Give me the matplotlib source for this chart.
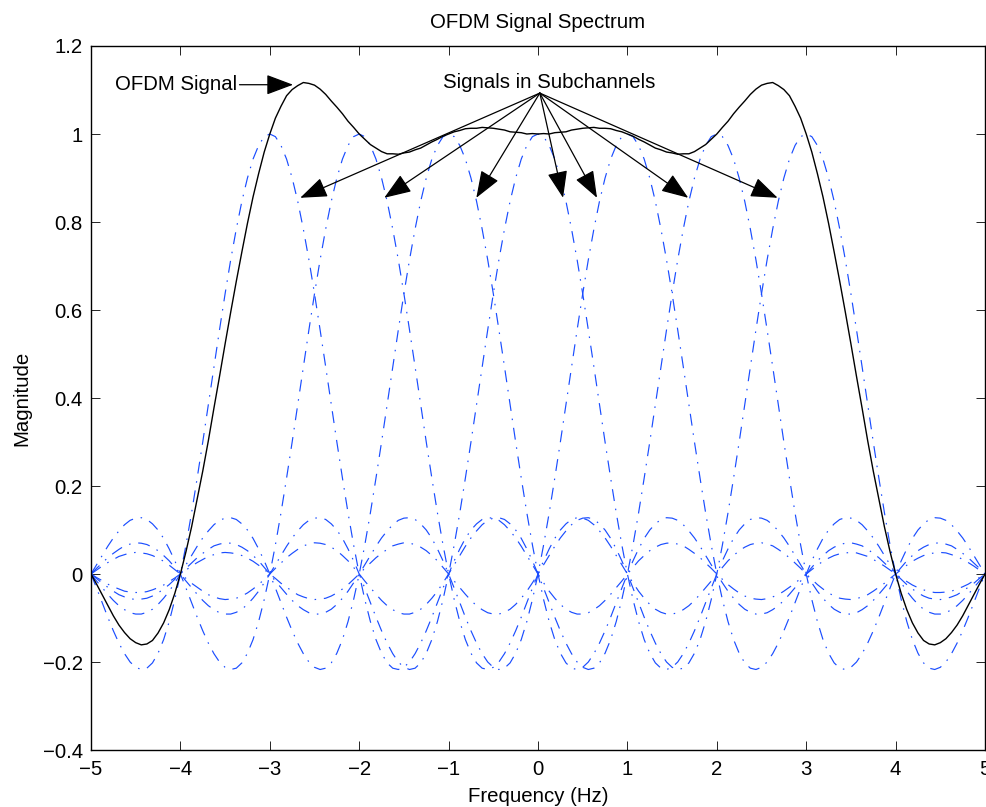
import numpy as np
import matplotlib
matplotlib.use("Agg")
import matplotlib.pyplot as plt

plt.rcParams['font.family'] = ['Liberation Sans', 'DejaVu Sans']
plt.rcParams['lines.scale_dashes'] = False

# centre frequency of each subchannel (Hz)
subchannel_centers = [-3, -2, -1, 0, 1, 2, 3]

# magnitude of one subchannel pulse, read at offsets 0, 1/16, 2/16 ... 8 Hz from its centre
pulse_step = 0.0625
pulse_values = [
    1.000, 0.994, 0.974, 0.943, 0.900, 0.847, 0.784, 0.714,
    0.637, 0.555, 0.471, 0.385, 0.300, 0.218, 0.139, 0.066,
    0.000, -0.058, -0.108, -0.149, -0.180, -0.202, -0.214, -0.217,
    -0.212, -0.200, -0.181, -0.157, -0.129, -0.098, -0.065, -0.032,
    0.000, 0.030, 0.057, 0.081, 0.100, 0.114, 0.124, 0.128,
    0.127, 0.122, 0.112, 0.098, 0.082, 0.063, 0.042, 0.021,
    0.000, -0.020, -0.039, -0.055, -0.069, -0.080, -0.087, -0.091,
    -0.091, -0.088, -0.081, -0.072, -0.060, -0.046, -0.031, -0.016,
    0.000, 0.015, 0.030, 0.042, 0.053, 0.061, 0.067, 0.070,
    0.071, 0.068, 0.064, 0.056, 0.047, 0.037, 0.025, 0.013,
    0.000, -0.012, -0.024, -0.034, -0.043, -0.050, -0.055, -0.057,
    -0.058, -0.056, -0.052, -0.047, -0.039, -0.030, -0.021, -0.010,
    0.000, 0.010, 0.020, 0.029, 0.036, 0.042, 0.046, 0.048,
    0.049, 0.048, 0.044, 0.040, 0.033, 0.026, 0.018, 0.009,
    0.000, -0.009, -0.017, -0.025, -0.031, -0.036, -0.040, -0.042,
    -0.042, -0.041, -0.039, -0.034, -0.029, -0.023, -0.015, -0.008,
    0.000,
]

# annotation positions
ofdm_label_xy = (-3.37, 1.112)
ofdm_arrow_tip = (-2.74, 1.112)
sub_label_xy = (0.12, 1.116)
sub_arrow_start = (0.02, 1.093)
sub_arrow_tips = [(-2.66, 0.855), (-1.72, 0.855), (-0.69, 0.855), (0.28, 0.855),
                  (0.66, 0.855), (1.68, 0.855), (2.68, 0.855)]

freq = np.arange(-5, 5 + pulse_step / 2, pulse_step)
pulse = np.array(pulse_values)

# shift the pulse to each subchannel centre (grid points line up exactly)
curves = []
for c in subchannel_centers:
    idx = np.rint(np.abs(freq - c) / pulse_step).astype(int)
    curves.append(pulse[idx])
ofdm = np.sum(curves, axis=0)

fig = plt.figure(figsize=(9.87, 8.07), dpi=100)
ax = fig.add_axes([0.0922, 0.0706, 0.9058, 0.8724])

for y in curves:
    ax.plot(freq, y, color=(0.1, 0.3, 1.0), lw=0.85, dashes=(8.6, 5.6, 1.1, 5.6))
ax.plot(freq, ofdm, color='k', lw=1.0)

ax.set_xlim(-5, 5)
ax.set_ylim(-0.4, 1.2)
ax.set_xticks(range(-5, 6))
ax.set_yticks(np.arange(-0.4, 1.21, 0.2))
ax.set_yticklabels(['\u22120.4', '\u22120.2', '0', '0.2', '0.4', '0.6', '0.8', '1', '1.2'])
ax.set_xticklabels([str(v).replace('-', '\u2212') for v in range(-5, 6)])
ax.tick_params(direction='in', top=True, right=True, length=6.5, width=0.6,
               labelsize=14.7)
ax.tick_params(axis='x', pad=7)
ax.tick_params(axis='y', pad=6)
for s in ax.spines.values():
    s.set_linewidth(1.0)

ax.set_title('OFDM Signal Spectrum', fontsize=14.7, pad=13)
ax.set_xlabel('Frequency (Hz)', fontsize=14.7, labelpad=6)
ax.set_ylabel('Magnitude', fontsize=14.7, labelpad=8)

arrow = dict(arrowstyle='-|>,head_length=1.2,head_width=0.45', color='k',
             lw=0.9, mutation_scale=14, shrinkA=0, shrinkB=0)
ax.annotate('OFDM Signal', xy=ofdm_arrow_tip, xytext=ofdm_label_xy,
            ha='right', va='center', fontsize=14.7, arrowprops=arrow)
ax.text(sub_label_xy[0], sub_label_xy[1], 'Signals in Subchannels',
        ha='center', va='center', fontsize=14.7)
for tip in sub_arrow_tips:
    ax.annotate('', xy=tip, xytext=sub_arrow_start, arrowprops=arrow)

fig.savefig('out.png', dpi=100)
